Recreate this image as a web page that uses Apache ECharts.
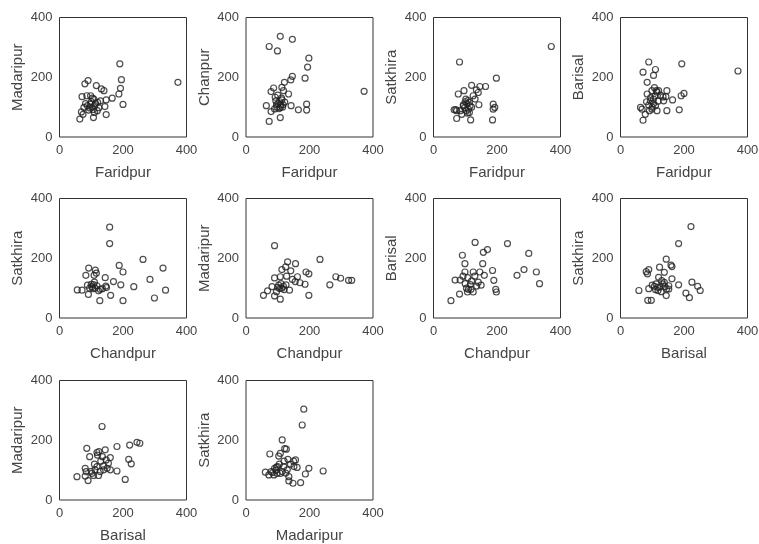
<!DOCTYPE html>
<html>
<head>
<meta charset="utf-8">
<script src="https://cdn.jsdelivr.net/npm/echarts@6/dist/echarts.min.js"></script>
<style>
  html, body { margin: 0; padding: 0; background: #fff; }
  #chart { width: 759px; height: 544px; }
</style>
</head>
<body>
<div id="chart"></div>
<script>
// Pairwise scatter plots of district values, [x, y] per observation
const faridpurMadaripur = [[373,183],[190,245],[195,192],[192,163],[187,144],[200,109],[166,130],[147,124],[143,102],[147,75],[140,155],[132,161],[116,172],[90,189],[80,178],[71,135],[86,138],[98,138],[108,127],[120,116],[129,121],[111,105],[96,97],[77,99],[82,112],[69,84],[64,60],[74,76],[107,65],[119,88],[92,90],[102,100],[106,92],[113,112],[100,118],[88,105],[124,98],[110,82],[97,110],[104,130]];
const faridpurChanpur = [[372,153],[73,303],[108,337],[99,288],[146,327],[198,264],[194,234],[186,197],[146,203],[141,191],[121,183],[113,166],[134,144],[87,164],[79,152],[113,124],[94,121],[92,133],[64,105],[79,85],[73,52],[108,65],[142,105],[165,91],[191,110],[191,90],[108,99],[101,112],[106,118],[97,100],[110,107],[117,108],[90,94],[122,117],[104,95],[118,155],[100,140],[112,130],[96,108],[115,100]];
const faridpurSatkhira = [[371,303],[82,251],[198,197],[120,173],[146,169],[164,169],[141,149],[135,158],[96,155],[78,144],[102,127],[113,116],[131,127],[143,108],[94,108],[65,91],[73,88],[89,76],[73,62],[117,57],[186,57],[188,110],[193,99],[188,93],[110,93],[113,82],[103,88],[84,88],[115,104],[94,104],[105,112],[120,100],[108,122],[98,98],[70,92],[125,138],[107,80],[100,118]];
const faridpurBarisal = [[370,221],[193,245],[200,146],[191,138],[185,91],[164,124],[146,155],[143,135],[146,88],[136,121],[110,226],[104,206],[89,251],[71,217],[84,183],[99,155],[84,144],[113,155],[120,155],[104,127],[94,121],[134,134],[89,107],[110,105],[115,88],[68,93],[63,99],[71,56],[78,76],[91,88],[104,112],[99,93],[109,137],[95,132],[118,120],[126,140],[82,118],[100,100],[115,150],[107,165]];
const chandpurSatkhira = [[158,304],[158,249],[263,196],[326,167],[285,129],[334,93],[299,67],[234,105],[200,154],[188,176],[193,111],[170,122],[200,58],[161,76],[127,58],[144,135],[146,107],[113,160],[109,143],[92,167],[83,143],[56,94],[71,93],[91,79],[102,105],[107,112],[112,100],[105,98],[123,91],[135,98],[148,102],[110,120],[95,100],[118,108],[128,96],[100,113],[116,150],[88,110]];
const chandpurMadaripur = [[90,242],[233,196],[131,188],[156,182],[113,162],[125,171],[141,158],[189,154],[198,148],[90,134],[108,138],[146,129],[162,138],[170,118],[186,113],[283,138],[298,133],[264,111],[323,126],[333,126],[126,111],[137,93],[106,99],[113,100],[100,103],[118,106],[82,105],[68,91],[55,76],[90,74],[108,63],[198,76],[155,122],[120,95],[96,88],[110,115],[128,140],[103,110]];
const chandpurBarisal = [[131,253],[233,249],[300,216],[157,220],[170,229],[91,210],[99,182],[155,182],[186,159],[285,162],[263,143],[324,154],[334,115],[190,126],[196,96],[198,87],[160,143],[146,154],[125,154],[99,154],[68,127],[84,127],[108,135],[120,124],[141,120],[136,107],[110,96],[125,87],[107,87],[82,80],[55,58],[100,115],[130,140],[116,112],[104,100],[150,110],[93,140],[118,96]];
const barisalSatkhira = [[222,306],[183,249],[144,197],[159,177],[162,172],[123,170],[89,162],[81,155],[85,148],[138,153],[162,131],[120,136],[183,111],[225,120],[243,106],[251,92],[206,83],[217,68],[58,92],[89,98],[86,59],[97,59],[144,75],[112,114],[123,103],[133,114],[117,103],[145,97],[128,88],[138,119],[152,108],[107,106],[152,97],[118,92],[100,110],[130,125],[140,105],[110,95]];
const barisalMadaripur = [[134,246],[253,190],[244,193],[221,184],[181,179],[86,173],[118,159],[124,162],[144,168],[160,142],[218,136],[226,121],[181,97],[207,69],[95,145],[81,106],[84,95],[90,65],[55,78],[81,80],[102,89],[118,112],[139,114],[147,134],[154,123],[160,101],[128,95],[139,101],[112,101],[150,106],[123,82],[107,82],[130,130],[110,120],[100,96],[135,145],[120,150]];
const madaripurSatkhira = [[182,304],[177,251],[114,201],[127,170],[122,172],[75,154],[103,147],[132,136],[156,134],[108,156],[151,112],[161,109],[198,106],[187,87],[243,97],[130,101],[119,112],[61,93],[72,84],[90,106],[96,110],[100,112],[108,89],[135,64],[148,56],[172,58],[135,78],[114,95],[79,95],[98,89],[88,84],[105,120],[140,120],[120,130],[95,100],[125,90],[150,130],[84,92]];

// Axis tick values shared by every panel
const ticks = [0, 200, 400];

// Panels in reading order: data, x label, y label
const panelData = [faridpurMadaripur, faridpurChanpur, faridpurSatkhira, faridpurBarisal,
                   chandpurSatkhira, chandpurMadaripur, chandpurBarisal, barisalSatkhira,
                   barisalMadaripur, madaripurSatkhira];
const xNames = ['Faridpur', 'Faridpur', 'Faridpur', 'Faridpur',
                'Chandpur', 'Chandpur', 'Chandpur', 'Barisal',
                'Barisal', 'Madaripur'];
const yNames = ['Madaripur', 'Chanpur', 'Satkhira', 'Barisal',
                'Satkhira', 'Madaripur', 'Barisal', 'Satkhira',
                'Madaripur', 'Satkhira'];

const colLeft = [59.5, 246, 433.5, 620.5];
const rowTop = [17.5, 198.5, 380.5];
const boxW = 127, boxH = 119.5;
const font = 'Liberation Sans, Arial, sans-serif';
const textColor = '#444';

const grids = [], xAxes = [], yAxes = [], series = [];
panelData.forEach((data, i) => {
  const c = i % 4, r = Math.floor(i / 4);
  grids.push({
    left: colLeft[c], top: rowTop[r], width: boxW, height: boxH,
    show: true, borderColor: '#333', borderWidth: 1, backgroundColor: 'transparent',
    containLabel: false, outerBoundsMode: 'none'
  });
  const axisCommon = {
    type: 'value', gridIndex: i,
    min: ticks[0], max: ticks[ticks.length - 1], interval: ticks[1] - ticks[0],
    axisLine: { show: false }, axisTick: { show: false }, splitLine: { show: false },
    nameLocation: 'middle',
    nameTextStyle: { fontSize: 15, color: textColor, fontFamily: font },
    axisLabel: { fontSize: 13, color: textColor, fontFamily: font, margin: 7, showMinLabel: true, showMaxLabel: true }
  };
  xAxes.push(Object.assign({}, axisCommon, { name: xNames[i], nameGap: 28 }));
  yAxes.push(Object.assign({}, axisCommon, { name: yNames[i], nameGap: 34 }));
  series.push({
    type: 'scatter', xAxisIndex: i, yAxisIndex: i, data: data,
    symbol: 'circle', symbolSize: 6,
    itemStyle: { color: 'rgba(255,255,255,0)', borderColor: '#222', borderWidth: 1.2 },
    emphasis: { disabled: true }, silent: true
  });
});

const chart = echarts.init(document.getElementById('chart'), null, { renderer: 'canvas' });
chart.setOption({
  animation: false,
  backgroundColor: '#fff',
  grid: grids, xAxis: xAxes, yAxis: yAxes, series: series
});
</script>
</body>
</html>
